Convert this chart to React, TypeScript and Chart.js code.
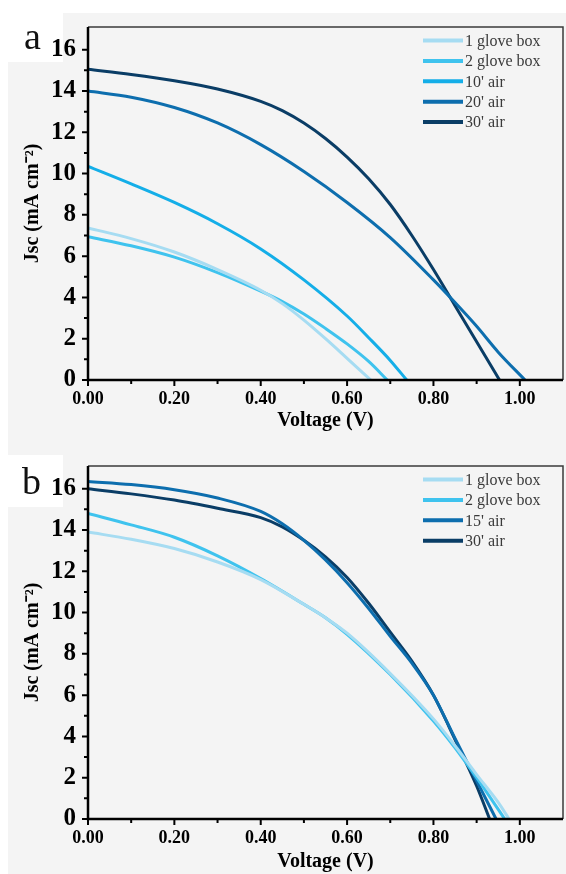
import React, { useEffect, useRef } from 'react';
import { Chart, registerables } from 'chart.js';

Chart.register(...registerables);

const FONT = '"Liberation Serif", "Times New Roman", Times, serif';
const BG_GRAY = '#f4f4f4';

// Axis ticks
const X_MAJOR = [0, 0.2, 0.4, 0.6, 0.8, 1.0];
const X_MINOR = [0.1, 0.3, 0.5, 0.7, 0.9];
const Y_MAJOR = [0, 2, 4, 6, 8, 10, 12, 14, 16];
const Y_MINOR = [1, 3, 5, 7, 9, 11, 13, 15];
const X_MAX = 1.1;
const Y_MAX = 17.1;

// Panel a
const A_LABELS = ['1 glove box', '2 glove box', "10' air", "20' air", "30' air"];
const A_COLORS = ['#a6dcf2', '#3fc3ee', '#14aee8', '#0d6eae', '#0a3d66'];
const A1_V = [0, 0.1, 0.2, 0.3, 0.4, 0.45, 0.5, 0.55, 0.6, 0.655];
const A1_J = [7.37, 6.85, 6.2, 5.35, 4.35, 3.7, 2.9, 2.0, 1.05, 0];
const A2_V = [0, 0.1, 0.2, 0.3, 0.4, 0.45, 0.5, 0.55, 0.6, 0.65, 0.693];
const A2_J = [6.94, 6.5, 5.95, 5.2, 4.3, 3.8, 3.2, 2.5, 1.75, 0.9, 0];
const A3_V = [0, 0.1, 0.2, 0.3, 0.4, 0.5, 0.6, 0.65, 0.7, 0.738];
const A3_J = [10.35, 9.5, 8.6, 7.57, 6.35, 4.85, 3.1, 2.05, 0.95, 0];
const A4_V = [0, 0.1, 0.2, 0.3, 0.4, 0.5, 0.6, 0.7, 0.8, 0.85, 0.9, 0.95, 1.012];
const A4_J = [14.0, 13.7, 13.2, 12.45, 11.4, 10.1, 8.6, 6.9, 4.85, 3.75, 2.6, 1.35, 0];
const A5_V = [0, 0.1, 0.2, 0.3, 0.4, 0.45, 0.5, 0.55, 0.6, 0.65, 0.7, 0.75, 0.8, 0.85, 0.9, 0.953];
const A5_J = [15.05, 14.8, 14.5, 14.1, 13.5, 13.05, 12.45, 11.7, 10.8, 9.75, 8.5, 7.0, 5.35, 3.6, 1.85, 0];

// Panel b
const B_LABELS = ['1 glove box', '2 glove box', "15' air", "30' air"];
const B_COLORS = ['#a6dcf2', '#3fc3ee', '#0d6eae', '#0a3d66'];
const B1_V = [0, 0.1, 0.2, 0.3, 0.4, 0.5, 0.55, 0.6, 0.7, 0.8, 0.85, 0.9, 0.95, 0.975];
const B1_J = [13.9, 13.55, 13.1, 12.45, 11.6, 10.4, 9.75, 9.0, 7.05, 4.85, 3.55, 2.15, 0.8, 0];
const B2_V = [0, 0.1, 0.2, 0.3, 0.4, 0.5, 0.55, 0.6, 0.7, 0.8, 0.85, 0.9, 0.965];
const B2_J = [14.8, 14.25, 13.65, 12.75, 11.65, 10.4, 9.75, 8.95, 7.0, 4.75, 3.45, 2.0, 0];
const B3_V = [0, 0.1, 0.2, 0.3, 0.4, 0.45, 0.5, 0.55, 0.6, 0.65, 0.7, 0.75, 0.8, 0.85, 0.9, 0.945];
const B3_J = [16.35, 16.2, 15.95, 15.55, 14.9, 14.3, 13.5, 12.55, 11.45, 10.2, 8.85, 7.55, 6.0, 3.9, 1.85, 0];
const B4_V = [0, 0.1, 0.2, 0.3, 0.4, 0.45, 0.5, 0.55, 0.6, 0.65, 0.7, 0.75, 0.8, 0.85, 0.9, 0.93];
const B4_J = [16.0, 15.75, 15.45, 15.05, 14.6, 14.15, 13.5, 12.7, 11.7, 10.45, 9.05, 7.65, 6.0, 3.85, 1.6, 0];

type Spec = {
  letter: string;
  letterX: number;
  letterY: number;
  grayTop: number;
  whiteBox: [number, number, number, number];
  labels: string[];
  colors: string[];
  vs: number[][];
  js: number[][];
  titlePadBottom: number;
};

const SPEC_A: Spec = {
  letter: 'a',
  letterX: 24,
  letterY: 49,
  grayTop: 13,
  whiteBox: [8, 13, 55, 49],
  labels: A_LABELS,
  colors: A_COLORS,
  vs: [A1_V, A2_V, A3_V, A4_V, A5_V],
  js: [A1_J, A2_J, A3_J, A4_J, A5_J],
  titlePadBottom: 7,
};

const SPEC_B: Spec = {
  letter: 'b',
  letterX: 22,
  letterY: 55,
  grayTop: 0,
  whiteBox: [8, 16, 55, 52],
  labels: B_LABELS,
  colors: B_COLORS,
  vs: [B1_V, B2_V, B3_V, B4_V],
  js: [B1_J, B2_J, B3_J, B4_J],
  titlePadBottom: 5,
};

function buildChart(canvas: HTMLCanvasElement, spec: Spec) {
  const datasets = spec.labels.map((label, i) => ({
    label,
    data: spec.vs[i].map((v, k) => ({ x: v, y: spec.js[i][k] })),
    borderColor: spec.colors[i],
    backgroundColor: spec.colors[i],
    borderWidth: 3,
    pointRadius: 0,
    pointHoverRadius: 0,
    showLine: true,
    fill: false,
    cubicInterpolationMode: 'monotone' as const,
  }));

  const decor = {
    id: 'decor',
    beforeDraw(chart: any) {
      const { ctx, width, height } = chart;
      ctx.save();
      ctx.fillStyle = '#ffffff';
      ctx.fillRect(0, 0, width, height);
      ctx.fillStyle = BG_GRAY;
      ctx.fillRect(8, spec.grayTop, width - 8, height - spec.grayTop);
      ctx.fillStyle = '#ffffff';
      const [bx, by, bw, bh] = spec.whiteBox;
      ctx.fillRect(bx, by, bw, bh);
      ctx.restore();
    },
    afterDatasetsDraw(chart: any) {
      const { ctx, chartArea: ca, scales } = chart;
      const xs = scales.x;
      const ys = scales.y;
      ctx.save();
      // top / right frame
      ctx.strokeStyle = '#3a3a3a';
      ctx.lineWidth = 1.5;
      ctx.beginPath();
      ctx.moveTo(ca.left, ca.top);
      ctx.lineTo(ca.right, ca.top);
      ctx.lineTo(ca.right, ca.bottom);
      ctx.stroke();
      // axes
      ctx.strokeStyle = '#000000';
      ctx.lineWidth = 2.5;
      ctx.beginPath();
      ctx.moveTo(ca.left, ca.top);
      ctx.lineTo(ca.left, ca.bottom);
      ctx.lineTo(ca.right, ca.bottom);
      ctx.stroke();
      // ticks
      ctx.lineWidth = 2;
      ctx.beginPath();
      Y_MAJOR.forEach((v) => {
        const p = ys.getPixelForValue(v);
        ctx.moveTo(ca.left - 6, p);
        ctx.lineTo(ca.left, p);
      });
      Y_MINOR.forEach((v) => {
        const p = ys.getPixelForValue(v);
        ctx.moveTo(ca.left - 4, p);
        ctx.lineTo(ca.left, p);
      });
      X_MAJOR.forEach((v) => {
        const p = xs.getPixelForValue(v);
        ctx.moveTo(p, ca.bottom);
        ctx.lineTo(p, ca.bottom + 6);
      });
      X_MINOR.forEach((v) => {
        const p = xs.getPixelForValue(v);
        ctx.moveTo(p, ca.bottom);
        ctx.lineTo(p, ca.bottom + 4);
      });
      ctx.stroke();
      // legend
      ctx.font = `16px ${FONT}`;
      ctx.textBaseline = 'middle';
      ctx.textAlign = 'left';
      chart.data.datasets.forEach((ds: any, i: number) => {
        const y = 40.5 + i * 20.4;
        ctx.strokeStyle = ds.borderColor;
        ctx.lineWidth = 4;
        ctx.beginPath();
        ctx.moveTo(423, y);
        ctx.lineTo(463, y);
        ctx.stroke();
        ctx.fillStyle = '#3a3a3a';
        ctx.fillText(ds.label, 465, y + 1);
      });
      // panel letter
      ctx.font = `38px ${FONT}`;
      ctx.fillStyle = '#111111';
      ctx.textBaseline = 'alphabetic';
      ctx.fillText(spec.letter, spec.letterX, spec.letterY);
      ctx.restore();
    },
  };

  return new Chart(canvas, {
    type: 'scatter',
    data: { datasets },
    options: {
      animation: false,
      responsive: false,
      devicePixelRatio: 1,
      events: [],
      layout: { autoPadding: false, padding: { top: 18, right: 3, left: 0, bottom: 0 } },
      plugins: { legend: { display: false }, tooltip: { enabled: false }, title: { display: false } },
      scales: {
        x: {
          type: 'linear',
          min: 0,
          max: X_MAX,
          afterFit: (s: any) => {
            s.height = 60;
          },
          afterBuildTicks: (s: any) => {
            s.ticks = X_MAJOR.map((v) => ({ value: v }));
          },
          grid: { display: false, drawTicks: false },
          border: { display: false },
          ticks: {
            autoSkip: false,
            maxRotation: 0,
            padding: 9,
            color: '#000',
            font: { family: FONT, size: 18, weight: 'bold' },
            callback: (v: any) => Number(v).toFixed(2),
          },
          title: {
            display: true,
            text: 'Voltage (V)',
            color: '#000',
            font: { family: FONT, size: 20, weight: 'bold' },
            padding: { top: 0, bottom: spec.titlePadBottom },
          },
        },
        y: {
          type: 'linear',
          min: 0,
          max: Y_MAX,
          afterFit: (s: any) => {
            s.width = 88;
          },
          afterBuildTicks: (s: any) => {
            s.ticks = Y_MAJOR.map((v) => ({ value: v }));
          },
          grid: { display: false, drawTicks: false },
          border: { display: false },
          ticks: {
            autoSkip: false,
            padding: 12,
            color: '#000',
            font: { family: FONT, size: 25, weight: 'bold' },
            callback: (v: any) => String(v),
          },
          title: {
            display: true,
            text: 'Jsc (mA cm⁻²)',
            color: '#000',
            font: { family: FONT, size: 20, weight: 'bold' },
            padding: { top: 21, bottom: 0 },
          },
        },
      },
    },
    plugins: [decor],
  } as any);
}

function Panel({ spec, top }: { spec: Spec; top: number }) {
  const ref = useRef<HTMLCanvasElement | null>(null);
  useEffect(() => {
    if (!ref.current) return;
    const chart = buildChart(ref.current, spec);
    return () => chart.destroy();
  }, [spec]);
  return (
    <canvas
      ref={ref}
      width={566}
      height={440}
      style={{ position: 'absolute', left: 0, top, width: 566, height: 440, display: 'block' }}
    />
  );
}

export default function App() {
  return (
    <div
      style={{
        position: 'fixed',
        left: 0,
        top: 0,
        width: 566,
        height: 874,
        overflow: 'hidden',
        background: '#ffffff',
      }}
    >
      <Panel spec={SPEC_A} top={0} />
      <Panel spec={SPEC_B} top={439} />
    </div>
  );
}
